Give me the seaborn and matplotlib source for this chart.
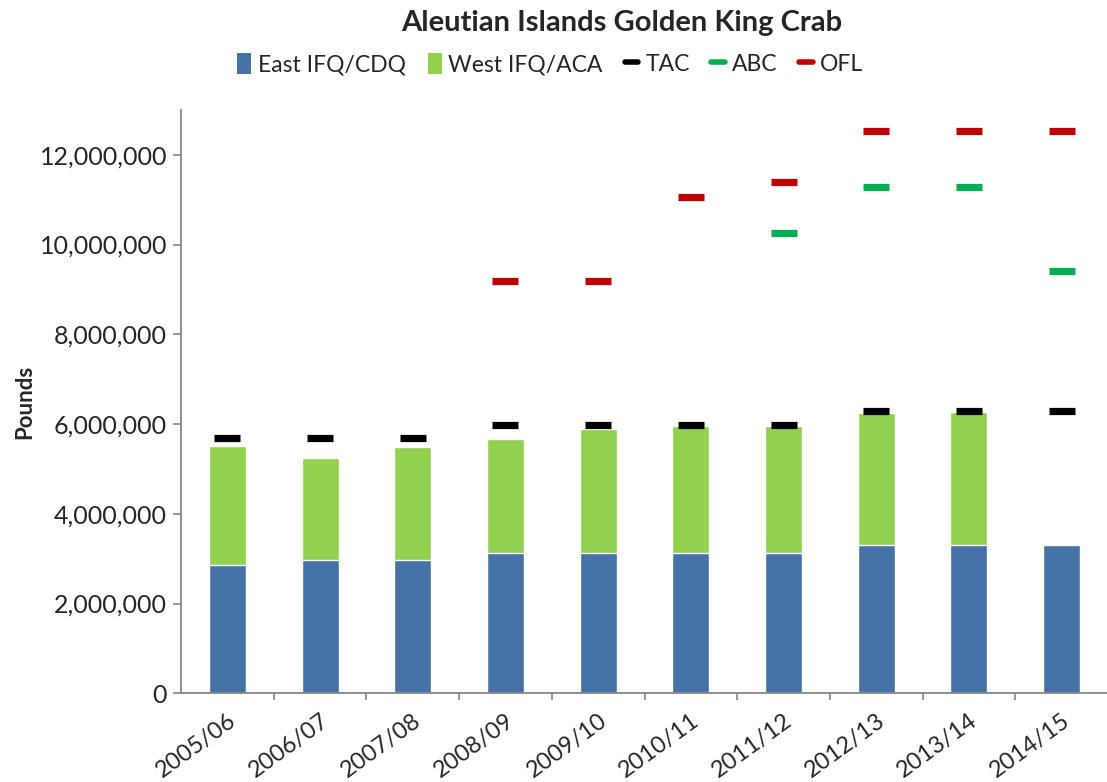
import numpy as np
import matplotlib
matplotlib.use("Agg")
import matplotlib.pyplot as plt
import seaborn as sns
from matplotlib.patches import Patch
from matplotlib.lines import Line2D
from matplotlib.ticker import FuncFormatter

# values (pounds)
seasons = ["2005/06", "2006/07", "2007/08", "2008/09", "2009/10",
           "2010/11", "2011/12", "2012/13", "2013/14", "2014/15"]
east = [2.86e6, 2.98e6, 2.98e6, 3.13e6, 3.13e6, 3.13e6, 3.13e6, 3.31e6, 3.30e6, 3.30e6]
west = [2.65e6, 2.27e6, 2.51e6, 2.54e6, 2.77e6, 2.83e6, 2.82e6, 2.94e6, 2.96e6, np.nan]
tac = [5.70e6, 5.70e6, 5.70e6, 5.985e6, 5.985e6, 5.985e6, 5.985e6, 6.29e6, 6.29e6, 6.29e6]
abc = [np.nan] * 6 + [10.26e6, 11.28e6, 11.28e6, 9.40e6]
ofl = [np.nan] * 3 + [9.18e6, 9.18e6, 11.06e6, 11.40e6, 12.53e6, 12.53e6, 12.53e6]

BLUE = "#4573A7"
GREEN = "#92D050"
ABC_GREEN = "#00B050"
RED = "#C00000"
AXIS_GRAY = "#868686"

sns.set_style("white")
plt.rcParams["font.family"] = ["Lato", "DejaVu Sans"]

fig = plt.figure(figsize=(11.07, 7.82), dpi=100)
ax = fig.add_axes([181 / 1107, 0.1134, 927 / 1107, 0.746])

totals = np.nansum([east, west], axis=0)

# stacked bars: draw the total in green, then east on top in blue
sns.barplot(x=seasons, y=totals, order=seasons, color=GREEN, saturation=1,
            width=0.4, ax=ax)
sns.barplot(x=seasons, y=east, order=seasons, color=BLUE, saturation=1,
            width=0.4, ax=ax)

# TAC / ABC / OFL as short horizontal dashes
for vals, col in [(tac, "black"), (abc, ABC_GREEN), (ofl, RED)]:
    sns.pointplot(x=seasons, y=vals, order=seasons, color=col, markers="_",
                  linestyle="none", errorbar=None, markersize=19,
                  markeredgewidth=5.2, ax=ax)

ax.set_xlim(-0.5, 9.5)
ax.set_ylim(0, 13e6)
ax.set_yticks(np.arange(0, 12.1e6, 2e6))
ax.yaxis.set_major_formatter(FuncFormatter(lambda v, p: f"{v:,.0f}"))

ax.set_xticks(np.arange(len(seasons)))
ax.set_xticklabels(seasons, rotation=36, ha="right", rotation_mode="anchor")
ax.set_xticks(np.arange(0.5, len(seasons) - 0.5, 1), minor=True)
ax.tick_params(axis="x", which="major", length=0, pad=12, labelsize=17)
ax.tick_params(axis="x", which="minor", length=5, color=AXIS_GRAY, width=1.2,
               direction="out", bottom=True)
ax.tick_params(axis="y", length=6, color=AXIS_GRAY, width=1.2, direction="out",
               left=True, labelsize=18, pad=4)

for side in ["top", "right"]:
    ax.spines[side].set_visible(False)
for side in ["left", "bottom"]:
    ax.spines[side].set_color(AXIS_GRAY)
    ax.spines[side].set_linewidth(1.3)

ax.set_xlabel("")
ax.set_ylabel("Pounds", fontsize=16, fontweight="bold", labelpad=3)

fig.text(0.562, 0.97, "Aleutian Islands Golden King Crab", ha="center",
         va="center", fontsize=21, fontweight="bold")

handles = [
    Patch(facecolor=BLUE, edgecolor="none"),
    Patch(facecolor=GREEN, edgecolor="none"),
    Line2D([], [], color="black", lw=4),
    Line2D([], [], color=ABC_GREEN, lw=4),
    Line2D([], [], color=RED, lw=4),
]
labels = ["East IFQ/CDQ", "West IFQ/ACA", "TAC", "ABC", "OFL"]
fig.legend(handles, labels, loc="center", bbox_to_anchor=(0.497, 0.918), ncol=5,
           frameon=False, fontsize=16.5, handlelength=0.6, handleheight=1.0,
           handletextpad=0.3, columnspacing=0.95)

fig.savefig("out.png", dpi=100)
